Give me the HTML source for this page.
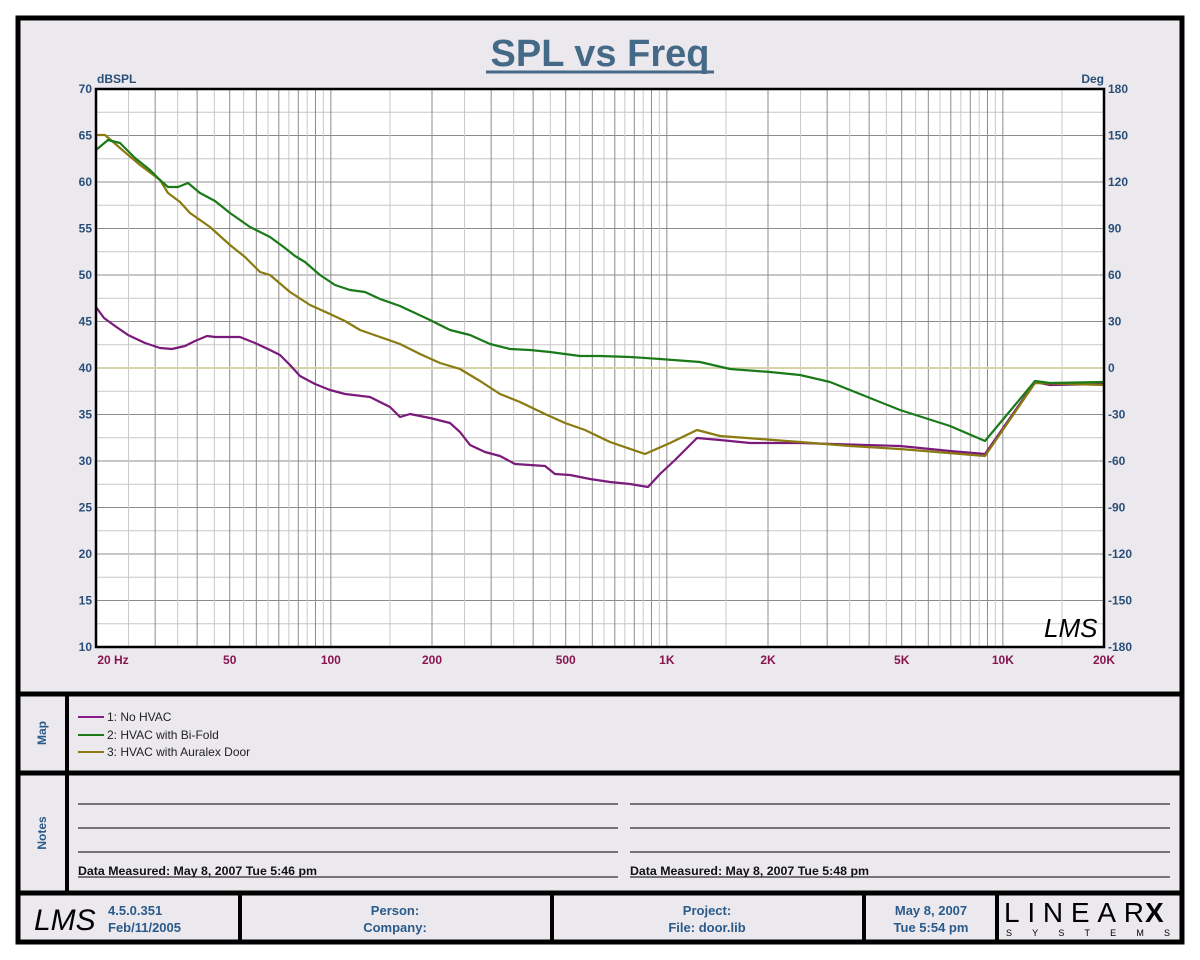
<!DOCTYPE html>
<html><head><meta charset="utf-8"><style>
html,body{margin:0;padding:0;background:#fff;}
svg{display:block;}
text{font-family:"Liberation Sans",Arial,sans-serif;}
</style></head><body>
<svg id="s" width="1200" height="960" xmlns="http://www.w3.org/2000/svg">
<rect x="0" y="0" width="1200" height="960" fill="#fff"/>
<rect x="18" y="18" width="1164" height="924" fill="#ebe9ed" stroke="#000" stroke-width="5"/>
<line x1="18" y1="694" x2="1182" y2="694" stroke="#000" stroke-width="5"/>
<line x1="18" y1="773" x2="1182" y2="773" stroke="#000" stroke-width="5"/>
<line x1="18" y1="893" x2="1182" y2="893" stroke="#000" stroke-width="5"/>
<line x1="67" y1="694" x2="67" y2="893" stroke="#000" stroke-width="4"/>
<line x1="240" y1="893" x2="240" y2="942" stroke="#000" stroke-width="4"/>
<line x1="552" y1="893" x2="552" y2="942" stroke="#000" stroke-width="4"/>
<line x1="864" y1="893" x2="864" y2="942" stroke="#000" stroke-width="4"/>
<line x1="997" y1="893" x2="997" y2="942" stroke="#000" stroke-width="4"/>
<rect x="96" y="89" width="1008" height="558" fill="#fff"/>
<g id="grid"></g>
<line x1="96" y1="368" x2="1104" y2="368" stroke="#d6d2ac" stroke-width="2"/>
<g id="curves" fill="none" stroke-width="2.2" stroke-linejoin="round"></g>
<rect x="96" y="89" width="1008" height="558" fill="none" stroke="#000" stroke-width="2.5"/>
<text x="600" y="66" text-anchor="middle" font-size="38" font-weight="bold" fill="#456a87">SPL vs Freq</text>
<line x1="486" y1="72" x2="714" y2="72" stroke="#456a87" stroke-width="3"/>
<text x="97" y="83" font-size="12" font-weight="bold" fill="#2a4e78">dBSPL</text>
<text x="1104" y="83" font-size="12" font-weight="bold" fill="#2a4e78" text-anchor="end">Deg</text>
<g id="ylab" font-size="12" font-weight="bold" fill="#2a4e78"></g>
<g id="xlab" font-size="12" font-weight="bold" fill="#8a1450" text-anchor="middle"></g>
<text x="1044" y="637" font-size="26" font-style="italic" fill="#000" font-family="Liberation Serif,serif">LMS</text>
<text transform="translate(46,733) rotate(-90)" text-anchor="middle" font-size="12" font-weight="bold" fill="#2a5a8a">Map</text>
<text transform="translate(46,833) rotate(-90)" text-anchor="middle" font-size="12" font-weight="bold" fill="#2a5a8a">Notes</text>
<g font-size="12" fill="#222">
<line x1="78" y1="717" x2="104" y2="717" stroke="#8a1a8a" stroke-width="2"/><text x="107" y="721">1: No HVAC</text>
<line x1="78" y1="735" x2="104" y2="735" stroke="#1a7a1a" stroke-width="2"/><text x="107" y="739">2: HVAC with Bi-Fold</text>
<line x1="78" y1="752" x2="104" y2="752" stroke="#8a7a10" stroke-width="2"/><text x="107" y="756">3: HVAC with Auralex Door</text>
</g>
<g stroke="#000" stroke-width="1">
<line x1="78" y1="804" x2="618" y2="804"/><line x1="78" y1="828" x2="618" y2="828"/><line x1="78" y1="852" x2="618" y2="852"/><line x1="78" y1="877" x2="618" y2="877"/>
<line x1="630" y1="804" x2="1170" y2="804"/><line x1="630" y1="828" x2="1170" y2="828"/><line x1="630" y1="852" x2="1170" y2="852"/><line x1="630" y1="877" x2="1170" y2="877"/>
</g>
<g font-size="12" font-weight="bold" fill="#111">
<text x="78" y="875" textLength="239" lengthAdjust="spacingAndGlyphs">Data Measured: May  8, 2007  Tue  5:46 pm</text>
<text x="630" y="875" textLength="239" lengthAdjust="spacingAndGlyphs">Data Measured: May  8, 2007  Tue  5:48 pm</text>
</g>
<text x="34" y="930" font-size="30" font-style="italic" fill="#000" font-family="Liberation Serif,serif">LMS</text>
<g font-size="13" font-weight="bold" fill="#2a5a8a">
<text x="108" y="915">4.5.0.351</text><text x="108" y="932">Feb/11/2005</text>
<text x="395" y="915" text-anchor="middle">Person:</text><text x="395" y="932" text-anchor="middle">Company:</text>
<text x="707" y="915" text-anchor="middle">Project:</text><text x="707" y="932" text-anchor="middle">File: door.lib</text>
<text x="931" y="915" text-anchor="middle">May  8, 2007</text><text x="931" y="932" text-anchor="middle">Tue  5:54 pm</text>
</g>
<text x="1004" y="922" font-size="28" fill="#000" font-family="Liberation Serif,serif" textLength="140" lengthAdjust="spacing">LINEAR</text>
<text x="1145" y="922" font-size="28" font-weight="bold" fill="#000">X</text>
<text x="1006" y="936" font-size="9" fill="#000" textLength="164" lengthAdjust="spacing">SYSTEMS</text>
</svg>
<script>
var NS="http://www.w3.org/2000/svg";
function el(p,t,a){var e=document.createElementNS(NS,t);for(var k in a)e.setAttribute(k,a[k]);p.appendChild(e);return e;}
function fx(f){return 96+336*Math.log10(f/20);}
var g=document.getElementById('grid');
// horizontal
for(var d=12.5;d<70;d+=2.5){var y=647-(d-10)*9.3;var maj=(d%5==0);el(g,'line',{x1:96,x2:1104,y1:y,y2:y,stroke:maj?'#8c8c8c':'#c8c8c8','stroke-width':1});}
// vertical
var decs=[10,100,1000,10000];
decs.forEach(function(D){for(var m=1;m<10;m+=0.5){var f=m*D;if(f<=20||f>=20000)continue;var maj=(m%1==0);el(g,'line',{x1:fx(f),x2:fx(f),y1:89,y2:647,stroke:maj?'#8c8c8c':'#c8c8c8','stroke-width':1});}});
var yl=document.getElementById('ylab');
for(var i=0;i<=12;i++){var v=70-5*i;var y=89+i*46.5;var t=el(yl,'text',{x:92,y:y+4,'text-anchor':'end'});t.textContent=v;
var ph=180-30*i;t=el(yl,'text',{x:1108,y:y+4});t.textContent=ph;}
var xl=document.getElementById('xlab');
[[20,'20  Hz',113],[50,'50'],[100,'100'],[200,'200'],[500,'500'],[1000,'1K'],[2000,'2K'],[5000,'5K'],[10000,'10K'],[20000,'20K']].forEach(function(a){var t=el(xl,'text',{x:a[2]||fx(a[0]),y:664});t.textContent=a[1];});
var cv=document.getElementById('curves');
function pl(pts,c){el(cv,'polyline',{points:pts,stroke:c});}
pl("96,307 104,318 115,326 128,335 145,343 160,348 172,349 185,346 195,341 207,336 215,337 240,337 255,343 270,350 280,355 290,365 300,376 315,384 330,390 345,394 370,397 380,402 390,407 400,417 410,414 430,418 450,423 460,432 470,445 485,452 500,456 515,464 530,465 545,466 555,474 570,475 590,479 610,482 630,484 648,487 660,474 675,460 697,438 720,440 750,443 800,443 900,446 950,451 985,454 1035,382 1050,385 1104,384","#7a1a7a");
pl("96,135 105,135 120,148 140,165 160,180 168,193 180,202 190,213 210,227 230,245 245,257 260,272 270,275 290,292 310,305 330,314 345,321 360,330 380,337 400,344 420,354 440,363 460,369 480,381 500,394 520,402 545,414 565,423 585,430 610,442 645,454 670,443 697,430 720,436 760,439 800,442 850,446 900,449 985,456 1035,383 1104,385","#8a7a10");
pl("96,150 108,140 120,143 135,158 150,170 160,180 168,187 178,187 188,183 200,193 215,201 230,213 250,227 270,237 285,248 295,256 305,262 320,275 335,285 350,290 365,292 380,299 400,306 430,320 450,330 470,335 490,344 510,349 530,350 550,352 580,356 600,356 630,357 660,359 700,362 730,369 770,372 800,375 830,382 860,394 900,410 950,426 985,441 1035,381 1050,383 1104,382","#1a7a1a");
</script>
</body></html>
